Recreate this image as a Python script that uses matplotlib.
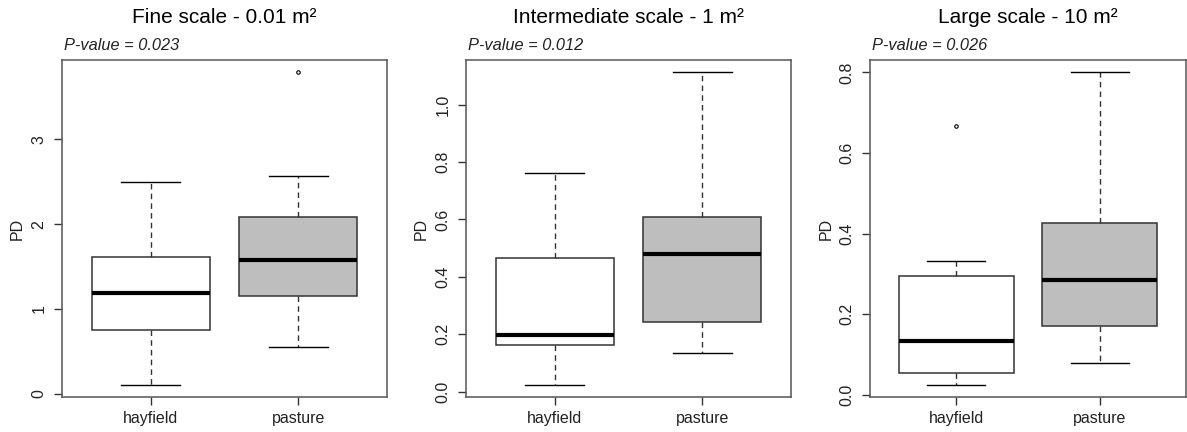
import numpy as np
import matplotlib
matplotlib.use("Agg")
import matplotlib.pyplot as plt

plt.rcParams['font.family'] = ['Liberation Sans', 'DejaVu Sans']

# Data (boxplot summaries)
groups = ['hayfield', 'pasture']
titles = ['Fine scale - 0.01 m²', 'Intermediate scale - 1 m²', 'Large scale - 10 m²']
p_values = ['0.023', '0.012', '0.026']

# whislo, q1, med, q3, whishi per group
fine_stats = [[0.11, 0.75, 1.19, 1.61, 2.50], [0.55, 1.15, 1.58, 2.09, 2.57]]
inter_stats = [[0.025, 0.162, 0.199, 0.464, 0.763], [0.134, 0.243, 0.481, 0.610, 1.112]]
large_stats = [[0.025, 0.053, 0.133, 0.294, 0.332], [0.079, 0.170, 0.285, 0.425, 0.800]]

fine_out = [[], [3.79]]
inter_out = [[], []]
large_out = [[0.667], []]

yticks = [[0, 1, 2, 3], [0.0, 0.2, 0.4, 0.6, 0.8, 1.0], [0.0, 0.2, 0.4, 0.6, 0.8]]
ytick_labels = [['0', '1', '2', '3'],
                ['0.0', '0.2', '0.4', '0.6', '0.8', '1.0'],
                ['0.0', '0.2', '0.4', '0.6', '0.8']]

all_stats = [fine_stats, inter_stats, large_stats]
all_out = [fine_out, inter_out, large_out]
fills = ['white', '#BEBEBE']

fig = plt.figure(figsize=(11.87, 4.32), dpi=100)
lefts = [62, 466, 870]
edge = '#333333'

for i in range(3):
    w = 325 if i < 2 else 316
    ax = fig.add_axes([lefts[i] / 1187, 1 - 397 / 432, w / 1187, 337 / 432])
    bxp = []
    for j, s in enumerate(all_stats[i]):
        bxp.append(dict(whislo=s[0], q1=s[1], med=s[2], q3=s[3], whishi=s[4],
                        fliers=all_out[i][j], label=groups[j]))
    res = ax.bxp(bxp, positions=[1, 2], widths=0.8, patch_artist=True,
                 showfliers=True, capwidths=0.4,
                 boxprops=dict(edgecolor=edge, linewidth=1.1),
                 medianprops=dict(color='black', linewidth=3),
                 whiskerprops=dict(color=edge, linewidth=1, linestyle=(0, (4, 3))),
                 capprops=dict(color='black', linewidth=1),
                 flierprops=dict(marker='o', markersize=2.5, markerfacecolor='none',
                                 markeredgecolor='black', markeredgewidth=0.8))
    for patch, c in zip(res['boxes'], fills):
        patch.set_facecolor(c)

    # R-style 4% padding
    vals = [v for s in all_stats[i] for v in s] + [v for o in all_out[i] for v in o]
    lo, hi = min(vals), max(vals)
    pad = (hi - lo) * 0.04
    ax.set_ylim(lo - pad, hi + pad)
    ax.set_xlim(0.4, 2.6)

    ax.set_yticks(yticks[i])
    ax.set_yticklabels(ytick_labels[i], rotation=90, va='center')
    ax.set_xticks([1, 2])
    ax.set_xticklabels(groups)
    ax.tick_params(axis='both', direction='out', length=6, width=1, color=edge,
                   labelsize=11.5, labelcolor='#222222')
    ax.tick_params(axis='y', pad=5)
    ax.tick_params(axis='x', pad=4)
    for sp in ax.spines.values():
        sp.set_color('#555555')
        sp.set_linewidth(1.1)

    ax.set_ylabel('PD', fontsize=11.5, color='#222222')
    ax.yaxis.set_label_coords(-0.115, 0.5)

    ax.text(0.5, 1.125, titles[i], transform=ax.transAxes, ha='center', va='center',
            fontsize=15, color='black')
    ax.text(0.005, 1.042, 'P-value = ' + p_values[i], transform=ax.transAxes,
            ha='left', va='center', fontsize=11.8, style='italic', color='#222222')

fig.savefig('out.png', dpi=100)
